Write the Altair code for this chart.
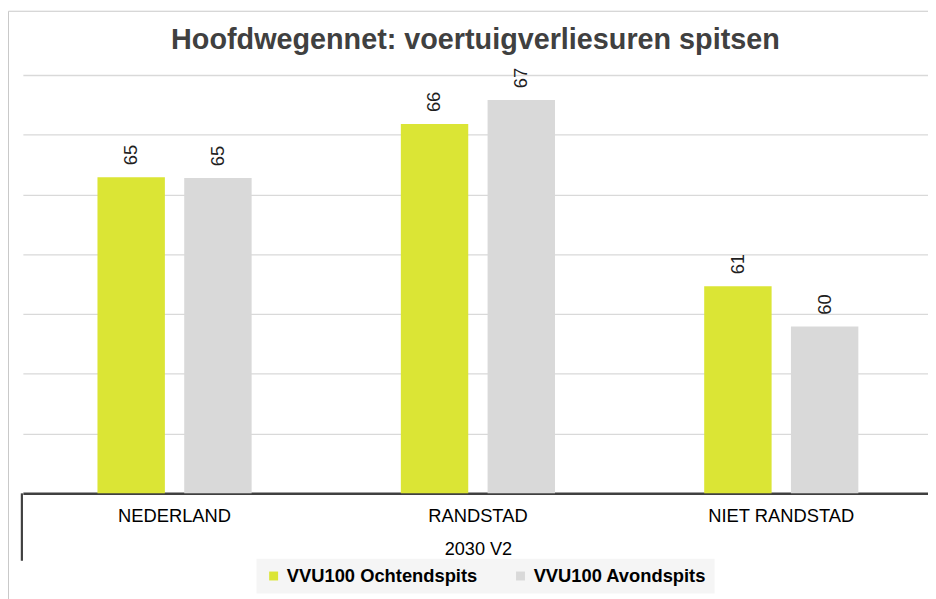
import altair as alt
import pandas as pd

# ---- data ----
categories = ["NEDERLAND", "RANDSTAD", "NIET RANDSTAD"]
series_names = ["VVU100 Ochtendspits", "VVU100 Avondspits"]
ochtendspits = [64.58, 66.36, 60.93]
avondspits = [64.55, 67.16, 59.58]
y_ticks = [54, 56, 58, 60, 62, 64, 66, 68]
title_text = "Hoofdwegennet: voertuigverliesuren spitsen"
axis_title = "2030 V2"
colors = ["#dbe535", "#d9d9d9"]

rows = []
for i, c in enumerate(categories):
    rows.append({"categorie": c, "reeks": series_names[0], "waarde": ochtendspits[i]})
    rows.append({"categorie": c, "reeks": series_names[1], "waarde": avondspits[i]})
df = pd.DataFrame(rows)

W, H = 913, 422

x_enc = alt.X(
    "categorie:N",
    sort=categories,
    scale=alt.Scale(range=[0, 918], paddingInner=0, paddingOuter=0),
    axis=alt.Axis(
        title=axis_title,
        labelAngle=0,
        labelFontSize=18.5,
        labelColor="#000000",
        labelPadding=28,
        labelBaseline="alphabetic",
        ticks=False,
        grid=False,
        domainColor="#404040",
        domainWidth=2.5,
        titleFontSize=18.3,
        titleFontWeight="normal",
        titleColor="#000000",
        titleBaseline="alphabetic",
        titleY=62,
    ),
)
xoff = alt.XOffset(
    "reeks:N", sort=series_names,
    scale=alt.Scale(paddingInner=0.223, paddingOuter=0.86),
)
y_enc = alt.Y(
    "waarde:Q",
    scale=alt.Scale(domain=[54, 68], zero=False, nice=False),
    axis=alt.Axis(
        values=y_ticks, labels=False, ticks=False, domain=False,
        grid=True, gridColor="#d9d9d9", gridWidth=1.3, title=None,
    ),
)

bars = alt.Chart(df).mark_bar(clip=True).encode(
    x=x_enc,
    xOffset=xoff,
    y=y_enc,
    color=alt.Color(
        "reeks:N",
        sort=series_names,
        scale=alt.Scale(domain=series_names, range=colors),
        legend=alt.Legend(
            orient="none", legendX=235.7, legendY=488,
            direction="horizontal", title=None,
            symbolType="square", symbolSize=81, symbolStrokeWidth=0,
            labelFontSize=18.5, labelFontWeight="bold", labelColor="#000000",
            labelOffset=4, columnPadding=34, padding=8,
            fillColor="#f5f5f5", labelLimit=400,
        ),
    ),
)

labels = alt.Chart(df).mark_text(
    angle=270, align="left", baseline="middle", dx=12,
    fontSize=18.5, color="#1f1f1f",
).encode(
    x=alt.X("categorie:N", sort=categories),
    xOffset=alt.XOffset("reeks:N", sort=series_names),
    y=alt.Y("waarde:Q"),
    text=alt.Text("waarde:Q", format=".0f"),
)

one = pd.DataFrame({"k": [0]})
frame_left = alt.Chart(one).mark_rule(color="#c8c8c8", strokeWidth=1).encode(
    x=alt.value(-14.5), y=alt.value(-64.3), y2=alt.value(530)
)
frame_top = alt.Chart(one).mark_rule(color="#c8c8c8", strokeWidth=1).encode(
    x=alt.value(-14.5), x2=alt.value(W + 10), y=alt.value(-64.3)
)
axis_outer = alt.Chart(one).mark_rule(color="#404040", strokeWidth=2.2).encode(
    x=alt.value(-1), y=alt.value(H), y2=alt.value(H + 68)
)

chart = alt.layer(frame_left, frame_top, bars, labels, axis_outer).properties(
    width=W,
    height=H,
    padding={"left": 15, "top": 65, "right": 0, "bottom": 104},
    autosize=alt.AutoSizeParams(type="none"),
    title=alt.TitleParams(
        text=title_text, fontSize=29, fontWeight="bold", color="#404040",
        anchor="middle", offset=22.5, baseline="alphabetic", dx=0, dy=89.8,
    ),
).configure(font="Liberation Sans").configure_view(stroke=None)

chart.save("out.html", embed_options={"renderer": "svg", "actions": False})
